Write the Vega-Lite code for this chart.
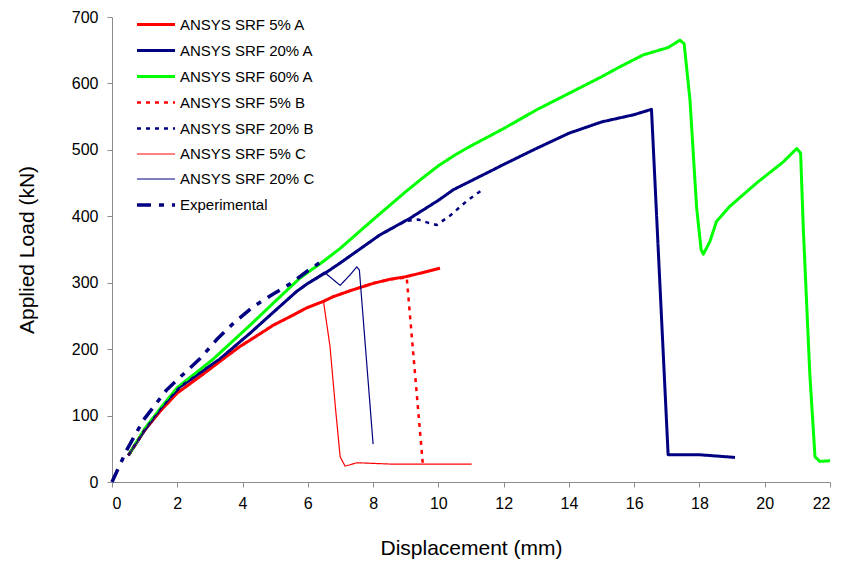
{
  "$schema": "https://vega.github.io/schema/vega-lite/v6.json",
  "width": 718,
  "height": 465,
  "autosize": {"type": "none"},
  "padding": {"left": 112, "top": 17, "right": 14, "bottom": 80},
  "background": "white",
  "config": {
    "view": {"stroke": null},
    "font": "Liberation Sans",
    "axis": {
      "grid": false,
      "domainColor": "#8c8c8c",
      "tickColor": "#8c8c8c",
      "tickSize": 5,
      "labelColor": "#000000",
      "labelFont": "Liberation Sans",
      "labelFontSize": 16,
      "titleFont": "Liberation Sans",
      "titleFontSize": 21,
      "titleFontWeight": "normal",
      "titleColor": "#000000"
    },
    "legend": {
      "orient": "none",
      "legendX": 40,
      "legendY": -7,
      "padding": 0,
      "title": null,
      "labelFont": "Liberation Sans",
      "labelFontSize": 15,
      "labelColor": "#000000",
      "labelOffset": -2,
      "symbolType": "M-2.31,0H0.62",
      "symbolSize": 676,
      "rowPadding": 3,
      "labelLimit": 300
    }
  },
  "data": {
    "values": [
      {"s": "ANSYS SRF 5% A", "x": 0.5, "y": 40},
      {"s": "ANSYS SRF 5% A", "x": 1.0, "y": 78},
      {"s": "ANSYS SRF 5% A", "x": 1.5, "y": 108},
      {"s": "ANSYS SRF 5% A", "x": 2.0, "y": 134},
      {"s": "ANSYS SRF 5% A", "x": 2.7, "y": 159},
      {"s": "ANSYS SRF 5% A", "x": 3.4, "y": 185},
      {"s": "ANSYS SRF 5% A", "x": 3.92, "y": 204},
      {"s": "ANSYS SRF 5% A", "x": 4.5, "y": 222},
      {"s": "ANSYS SRF 5% A", "x": 4.94, "y": 236},
      {"s": "ANSYS SRF 5% A", "x": 5.5, "y": 250},
      {"s": "ANSYS SRF 5% A", "x": 5.96, "y": 262},
      {"s": "ANSYS SRF 5% A", "x": 6.48, "y": 272},
      {"s": "ANSYS SRF 5% A", "x": 6.78, "y": 279},
      {"s": "ANSYS SRF 5% A", "x": 7.3, "y": 288},
      {"s": "ANSYS SRF 5% A", "x": 8.0, "y": 299},
      {"s": "ANSYS SRF 5% A", "x": 8.5, "y": 305},
      {"s": "ANSYS SRF 5% A", "x": 9.0, "y": 309},
      {"s": "ANSYS SRF 5% A", "x": 9.5, "y": 315},
      {"s": "ANSYS SRF 5% A", "x": 10.05, "y": 322},

      {"s": "ANSYS SRF 20% A", "x": 0.5, "y": 40},
      {"s": "ANSYS SRF 20% A", "x": 1.0, "y": 78},
      {"s": "ANSYS SRF 20% A", "x": 1.5, "y": 110},
      {"s": "ANSYS SRF 20% A", "x": 2.08, "y": 143},
      {"s": "ANSYS SRF 20% A", "x": 3.3, "y": 185},
      {"s": "ANSYS SRF 20% A", "x": 4.23, "y": 224},
      {"s": "ANSYS SRF 20% A", "x": 5.0, "y": 258},
      {"s": "ANSYS SRF 20% A", "x": 5.66, "y": 287},
      {"s": "ANSYS SRF 20% A", "x": 6.0, "y": 299},
      {"s": "ANSYS SRF 20% A", "x": 6.58, "y": 316},
      {"s": "ANSYS SRF 20% A", "x": 7.0, "y": 330},
      {"s": "ANSYS SRF 20% A", "x": 8.21, "y": 372},
      {"s": "ANSYS SRF 20% A", "x": 9.13, "y": 397},
      {"s": "ANSYS SRF 20% A", "x": 10.0, "y": 424},
      {"s": "ANSYS SRF 20% A", "x": 10.46, "y": 440},
      {"s": "ANSYS SRF 20% A", "x": 11.68, "y": 470},
      {"s": "ANSYS SRF 20% A", "x": 12.0, "y": 478},
      {"s": "ANSYS SRF 20% A", "x": 13.0, "y": 502},
      {"s": "ANSYS SRF 20% A", "x": 14.0, "y": 525},
      {"s": "ANSYS SRF 20% A", "x": 15.0, "y": 542},
      {"s": "ANSYS SRF 20% A", "x": 16.0, "y": 553},
      {"s": "ANSYS SRF 20% A", "x": 16.53, "y": 561},
      {"s": "ANSYS SRF 20% A", "x": 17.04, "y": 41},
      {"s": "ANSYS SRF 20% A", "x": 18.01, "y": 41},
      {"s": "ANSYS SRF 20% A", "x": 19.09, "y": 37},

      {"s": "ANSYS SRF 60% A", "x": 0.5, "y": 40},
      {"s": "ANSYS SRF 60% A", "x": 1.0, "y": 80},
      {"s": "ANSYS SRF 60% A", "x": 1.5, "y": 112},
      {"s": "ANSYS SRF 60% A", "x": 2.0, "y": 142},
      {"s": "ANSYS SRF 60% A", "x": 3.1, "y": 185},
      {"s": "ANSYS SRF 60% A", "x": 4.23, "y": 236},
      {"s": "ANSYS SRF 60% A", "x": 5.0, "y": 272},
      {"s": "ANSYS SRF 60% A", "x": 5.76, "y": 307},
      {"s": "ANSYS SRF 60% A", "x": 6.5, "y": 333},
      {"s": "ANSYS SRF 60% A", "x": 7.0, "y": 352},
      {"s": "ANSYS SRF 60% A", "x": 8.0, "y": 395},
      {"s": "ANSYS SRF 60% A", "x": 9.0, "y": 437},
      {"s": "ANSYS SRF 60% A", "x": 9.5, "y": 457},
      {"s": "ANSYS SRF 60% A", "x": 10.0, "y": 476},
      {"s": "ANSYS SRF 60% A", "x": 10.5, "y": 492},
      {"s": "ANSYS SRF 60% A", "x": 11.0, "y": 506},
      {"s": "ANSYS SRF 60% A", "x": 12.0, "y": 532},
      {"s": "ANSYS SRF 60% A", "x": 13.0, "y": 560},
      {"s": "ANSYS SRF 60% A", "x": 14.0, "y": 585},
      {"s": "ANSYS SRF 60% A", "x": 15.0, "y": 610},
      {"s": "ANSYS SRF 60% A", "x": 15.56, "y": 625},
      {"s": "ANSYS SRF 60% A", "x": 16.28, "y": 643},
      {"s": "ANSYS SRF 60% A", "x": 17.04, "y": 654},
      {"s": "ANSYS SRF 60% A", "x": 17.4, "y": 665},
      {"s": "ANSYS SRF 60% A", "x": 17.53, "y": 660},
      {"s": "ANSYS SRF 60% A", "x": 17.71, "y": 575},
      {"s": "ANSYS SRF 60% A", "x": 17.91, "y": 415},
      {"s": "ANSYS SRF 60% A", "x": 18.05, "y": 350},
      {"s": "ANSYS SRF 60% A", "x": 18.12, "y": 343},
      {"s": "ANSYS SRF 60% A", "x": 18.32, "y": 362},
      {"s": "ANSYS SRF 60% A", "x": 18.52, "y": 392},
      {"s": "ANSYS SRF 60% A", "x": 18.93, "y": 415},
      {"s": "ANSYS SRF 60% A", "x": 19.75, "y": 450},
      {"s": "ANSYS SRF 60% A", "x": 20.57, "y": 482},
      {"s": "ANSYS SRF 60% A", "x": 20.98, "y": 502},
      {"s": "ANSYS SRF 60% A", "x": 21.1, "y": 495},
      {"s": "ANSYS SRF 60% A", "x": 21.18, "y": 384},
      {"s": "ANSYS SRF 60% A", "x": 21.38, "y": 164},
      {"s": "ANSYS SRF 60% A", "x": 21.54, "y": 38},
      {"s": "ANSYS SRF 60% A", "x": 21.69, "y": 31},
      {"s": "ANSYS SRF 60% A", "x": 22.0, "y": 32},

      {"s": "ANSYS SRF 5% B", "x": 0.5, "y": 40},
      {"s": "ANSYS SRF 5% B", "x": 1.0, "y": 78},
      {"s": "ANSYS SRF 5% B", "x": 1.5, "y": 108},
      {"s": "ANSYS SRF 5% B", "x": 2.0, "y": 134},
      {"s": "ANSYS SRF 5% B", "x": 2.7, "y": 159},
      {"s": "ANSYS SRF 5% B", "x": 3.4, "y": 185},
      {"s": "ANSYS SRF 5% B", "x": 3.92, "y": 204},
      {"s": "ANSYS SRF 5% B", "x": 4.5, "y": 222},
      {"s": "ANSYS SRF 5% B", "x": 4.94, "y": 236},
      {"s": "ANSYS SRF 5% B", "x": 5.5, "y": 250},
      {"s": "ANSYS SRF 5% B", "x": 5.96, "y": 262},
      {"s": "ANSYS SRF 5% B", "x": 6.48, "y": 272},
      {"s": "ANSYS SRF 5% B", "x": 6.78, "y": 279},
      {"s": "ANSYS SRF 5% B", "x": 7.3, "y": 288},
      {"s": "ANSYS SRF 5% B", "x": 8.0, "y": 299},
      {"s": "ANSYS SRF 5% B", "x": 8.5, "y": 305},
      {"s": "ANSYS SRF 5% B", "x": 9.03, "y": 308},
      {"s": "ANSYS SRF 5% B", "x": 9.52, "y": 29},

      {"s": "ANSYS SRF 20% B", "x": 0.5, "y": 40},
      {"s": "ANSYS SRF 20% B", "x": 1.0, "y": 78},
      {"s": "ANSYS SRF 20% B", "x": 1.5, "y": 110},
      {"s": "ANSYS SRF 20% B", "x": 2.08, "y": 143},
      {"s": "ANSYS SRF 20% B", "x": 3.3, "y": 185},
      {"s": "ANSYS SRF 20% B", "x": 4.23, "y": 224},
      {"s": "ANSYS SRF 20% B", "x": 5.0, "y": 258},
      {"s": "ANSYS SRF 20% B", "x": 5.66, "y": 287},
      {"s": "ANSYS SRF 20% B", "x": 6.0, "y": 299},
      {"s": "ANSYS SRF 20% B", "x": 6.58, "y": 316},
      {"s": "ANSYS SRF 20% B", "x": 7.0, "y": 330},
      {"s": "ANSYS SRF 20% B", "x": 8.21, "y": 372},
      {"s": "ANSYS SRF 20% B", "x": 9.0, "y": 393},
      {"s": "ANSYS SRF 20% B", "x": 9.39, "y": 395},
      {"s": "ANSYS SRF 20% B", "x": 9.7, "y": 390},
      {"s": "ANSYS SRF 20% B", "x": 9.95, "y": 387},
      {"s": "ANSYS SRF 20% B", "x": 10.36, "y": 401},
      {"s": "ANSYS SRF 20% B", "x": 10.87, "y": 423},
      {"s": "ANSYS SRF 20% B", "x": 11.38, "y": 441},

      {"s": "ANSYS SRF 5% C", "x": 0.5, "y": 40},
      {"s": "ANSYS SRF 5% C", "x": 1.0, "y": 78},
      {"s": "ANSYS SRF 5% C", "x": 1.5, "y": 108},
      {"s": "ANSYS SRF 5% C", "x": 2.0, "y": 134},
      {"s": "ANSYS SRF 5% C", "x": 2.7, "y": 159},
      {"s": "ANSYS SRF 5% C", "x": 3.4, "y": 185},
      {"s": "ANSYS SRF 5% C", "x": 3.92, "y": 204},
      {"s": "ANSYS SRF 5% C", "x": 4.5, "y": 222},
      {"s": "ANSYS SRF 5% C", "x": 4.94, "y": 236},
      {"s": "ANSYS SRF 5% C", "x": 5.5, "y": 250},
      {"s": "ANSYS SRF 5% C", "x": 5.96, "y": 262},
      {"s": "ANSYS SRF 5% C", "x": 6.48, "y": 272},
      {"s": "ANSYS SRF 5% C", "x": 6.68, "y": 204},
      {"s": "ANSYS SRF 5% C", "x": 6.85, "y": 110},
      {"s": "ANSYS SRF 5% C", "x": 6.99, "y": 38},
      {"s": "ANSYS SRF 5% C", "x": 7.14, "y": 24},
      {"s": "ANSYS SRF 5% C", "x": 7.3, "y": 26},
      {"s": "ANSYS SRF 5% C", "x": 7.5, "y": 29},
      {"s": "ANSYS SRF 5% C", "x": 8.52, "y": 27},
      {"s": "ANSYS SRF 5% C", "x": 11.02, "y": 27},

      {"s": "ANSYS SRF 20% C", "x": 0.5, "y": 40},
      {"s": "ANSYS SRF 20% C", "x": 1.0, "y": 78},
      {"s": "ANSYS SRF 20% C", "x": 1.5, "y": 110},
      {"s": "ANSYS SRF 20% C", "x": 2.08, "y": 143},
      {"s": "ANSYS SRF 20% C", "x": 3.3, "y": 185},
      {"s": "ANSYS SRF 20% C", "x": 4.23, "y": 224},
      {"s": "ANSYS SRF 20% C", "x": 5.0, "y": 258},
      {"s": "ANSYS SRF 20% C", "x": 5.66, "y": 287},
      {"s": "ANSYS SRF 20% C", "x": 6.0, "y": 299},
      {"s": "ANSYS SRF 20% C", "x": 6.5, "y": 316},
      {"s": "ANSYS SRF 20% C", "x": 6.99, "y": 296},
      {"s": "ANSYS SRF 20% C", "x": 7.3, "y": 312},
      {"s": "ANSYS SRF 20% C", "x": 7.5, "y": 324},
      {"s": "ANSYS SRF 20% C", "x": 7.58, "y": 319},
      {"s": "ANSYS SRF 20% C", "x": 8.0, "y": 57},

      {"s": "Experimental", "x": 0.0, "y": 0},
      {"s": "Experimental", "x": 0.45, "y": 48},
      {"s": "Experimental", "x": 0.96, "y": 93},
      {"s": "Experimental", "x": 1.68, "y": 139},
      {"s": "Experimental", "x": 2.7, "y": 186},
      {"s": "Experimental", "x": 3.2, "y": 214},
      {"s": "Experimental", "x": 3.72, "y": 239},
      {"s": "Experimental", "x": 4.33, "y": 264},
      {"s": "Experimental", "x": 4.94, "y": 283},
      {"s": "Experimental", "x": 5.45, "y": 298},
      {"s": "Experimental", "x": 6.0, "y": 318},
      {"s": "Experimental", "x": 6.48, "y": 334}
    ]
  },
  "mark": {"type": "line", "strokeCap": "butt", "strokeJoin": "round"},
  "encoding": {
    "x": {
      "field": "x",
      "type": "quantitative",
      "scale": {"domain": [0, 22], "nice": false},
      "axis": {"values": [0, 2, 4, 6, 8, 10, 12, 14, 16, 18, 20, 22], "title": "Displacement (mm)", "labelPadding": 8, "titlePadding": 26}
    },
    "y": {
      "field": "y",
      "type": "quantitative",
      "scale": {"domain": [0, 700], "nice": false},
      "axis": {"values": [0, 100, 200, 300, 400, 500, 600, 700], "title": "Applied Load (kN)", "labelPadding": 9, "titlePadding": 34}
    },
    "color": {
      "field": "s",
      "type": "nominal",
      "scale": {
        "domain": ["ANSYS SRF 5% A", "ANSYS SRF 20% A", "ANSYS SRF 60% A", "ANSYS SRF 5% B", "ANSYS SRF 20% B", "ANSYS SRF 5% C", "ANSYS SRF 20% C", "Experimental"],
        "range": ["#ff0000", "#000080", "#00ff00", "#ff0000", "#000080", "#ff0000", "#000080", "#000080"]
      }
    },
    "strokeDash": {
      "field": "s",
      "type": "nominal",
      "scale": {
        "domain": ["ANSYS SRF 5% A", "ANSYS SRF 20% A", "ANSYS SRF 60% A", "ANSYS SRF 5% B", "ANSYS SRF 20% B", "ANSYS SRF 5% C", "ANSYS SRF 20% C", "Experimental"],
        "range": [[1, 0], [1, 0], [1, 0], [4, 5], [4, 5], [1, 0], [1, 0], [14, 8, 5, 8]]
      }
    },
    "strokeWidth": {
      "field": "s",
      "type": "nominal",
      "scale": {
        "type": "ordinal",
        "domain": ["ANSYS SRF 5% A", "ANSYS SRF 20% A", "ANSYS SRF 60% A", "ANSYS SRF 5% B", "ANSYS SRF 20% B", "ANSYS SRF 5% C", "ANSYS SRF 20% C", "Experimental"],
        "range": [3, 3, 3, 2.5, 2.5, 1.2, 1.2, 3.5]
      }
    }
  }
}
